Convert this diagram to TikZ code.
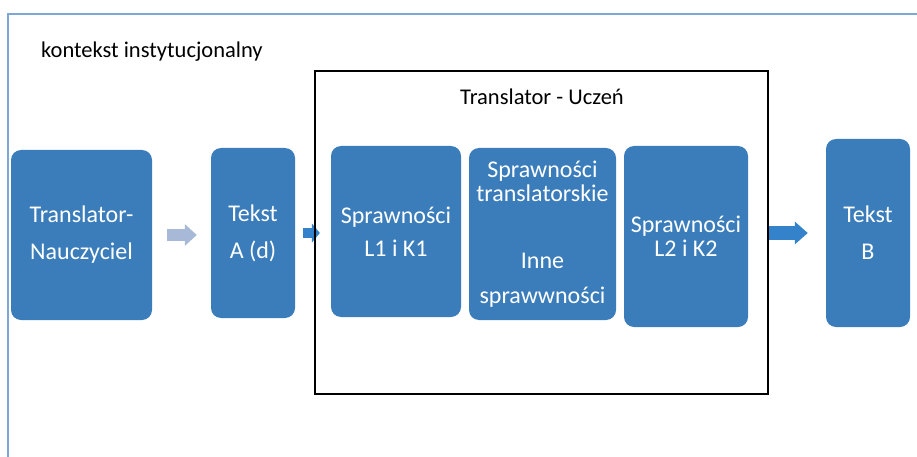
\documentclass[tikz,border=0pt]{standalone}
\usepackage{fontspec}
\setmainfont{Carlito}
\usepackage{tikz}
\usetikzlibrary{arrows.meta, positioning}
\definecolor{blokblue}{RGB}{59,125,187}
\definecolor{linkblue}{RGB}{52,131,202}
\definecolor{linkgray}{RGB}{167,185,214}
\definecolor{ramka}{RGB}{127,167,214}

\begin{document}
\begin{tikzpicture}[x=1pt, y=-1pt]

        % Setup the styles for the boxes and arrows
        \tikzset{blok/.style={rectangle,
                              rounded corners=10pt,
                              fill=blokblue,
                              text=white,
                              align=center,
                              inner sep=0pt,
                              font=\fontsize{24}{24}\selectfont},
                 napis/.style={font=\fontsize{22.5}{26}\selectfont, inner sep=0pt},
                 graylink/.style={line width=12pt, draw=linkgray,
                                  -{Triangle[width=21pt, length=12pt]}},
                 bluelink/.style={line width=14pt, draw=linkblue,
                                  -{Triangle[width=22pt, length=13pt]}}}

        \useasboundingbox (0, 0) rectangle (917, 457);

        % Outer frame
        \draw[ramka, line width=1.2pt] (917, 14) -- (8, 14) -- (8, 457);
        \node[napis, anchor=west] at (41, 52) (kontekst) {kontekst instytucjonalny};

        % Draw the boxes
        \node[blok, minimum width=141pt, minimum height=170pt] at (81.5, 235)  (nau)
            {Translator-\\[13pt]Nauczyciel};
        \node[blok, minimum width=84pt,  minimum height=170pt] at (253, 233)   (teksta)
            {Tekst\\[13pt]A (d)};
        \node[blok, minimum width=130pt, minimum height=171pt] at (396, 231.5) (l1k1)
            {Sprawności\\[9pt]L1 i K1};
        \node[blok, minimum width=147pt, minimum height=172pt] at (542.5, 234) (trans)
            {Sprawności\\translatorskie\\[43pt]Inne\\[11pt]sprawwności};
        \node[blok, minimum width=124pt, minimum height=181pt] at (686, 236.5) (l2k2)
            {Sprawności\\L2 i K2};
        \node[blok, minimum width=84pt,  minimum height=188pt] at (868, 233)   (tekstb)
            {Tekst\\[13pt]B};

        % Connect the boxes with arrows
        \draw[graylink, shorten <=15pt, shorten >=14pt]
            (nau.east) -- (nau.east -| teksta.west);
        \draw[bluelink, line width=10pt, -{Triangle[width=19pt, length=8pt]},
              shorten <=8pt, shorten >=11pt]
            (teksta.east) -- (teksta.east -| l1k1.west);
        \draw[bluelink, shorten <=20pt, shorten >=18pt]
            (l2k2.east |- tekstb.west) -- (tekstb.west);

        % Frame of the learner
        \node[draw, line width=1.5pt, minimum width=453pt, minimum height=323pt,
              inner sep=0pt] at (541.5, 232.5) (uczen) {};
        \node[napis] at (542, 97) (tytul) {Translator - Uczeń};
    \end{tikzpicture}
\end{document}
